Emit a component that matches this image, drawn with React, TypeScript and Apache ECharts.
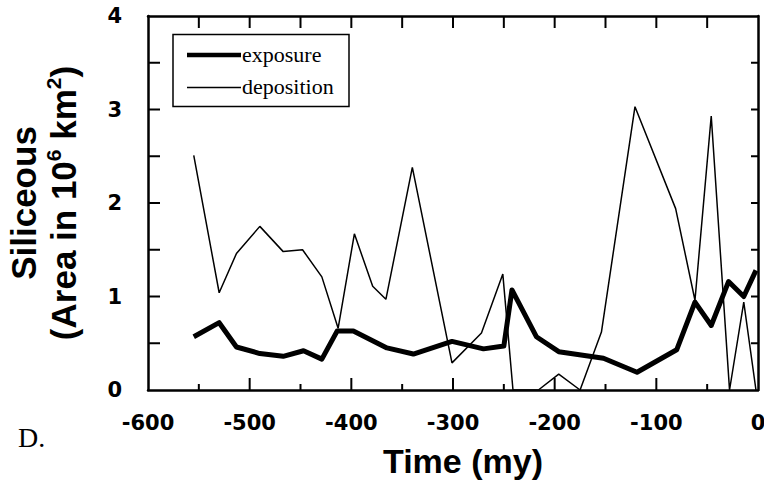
import React, { useEffect, useRef } from "react";
import * as echarts from "echarts";

const expTime = [-555, -530, -513, -490, -467, -447, -429, -414, -398, -365, -339, -301, -270, -250, -242, -218, -196, -152, -119, -80, -62, -46, -29, -14, -2];
const expValue = [0.57, 0.72, 0.46, 0.39, 0.36, 0.42, 0.33, 0.63, 0.63, 0.45, 0.385, 0.52, 0.44, 0.47, 1.07, 0.57, 0.41, 0.34, 0.19, 0.43, 0.94, 0.69, 1.16, 1.0, 1.28];

const depTime = [-555, -530, -513, -490, -467, -448, -429, -413, -397, -379, -366, -340, -301, -272, -251, -241, -216, -196, -175, -154, -121, -81, -62, -46, -28, -14, -2];
const depValue = [2.51, 1.04, 1.46, 1.75, 1.48, 1.5, 1.21, 0.66, 1.67, 1.11, 0.97, 2.38, 0.29, 0.61, 1.24, 0, 0, 0.17, 0, 0.62, 3.03, 1.94, 0.96, 2.93, 0, 0.94, 0];

// axis tick positions (major every 100 / 1, minor halfway)
const xTicks = [-550, -500, -450, -400, -350, -300, -250, -200, -150, -100, -50];
const yTicks = [0.5, 1, 1.5, 2, 2.5, 3, 3.5];

const seriesNames = ["exposure", "deposition"];
const xTitle = "Time (my)";
const panelLabel = "D.";

const SANS = "'Liberation Sans', Arial, Helvetica, sans-serif";
const TICKFONT = "'DejaVu Sans', 'Liberation Sans', sans-serif";
const SERIF = "'Liberation Serif', 'Times New Roman', serif";

const X_MIN = -600;
const X_MAX = 0;
const Y_MIN = 0;
const Y_MAX = 4;

export default function App() {
  const ref = useRef<HTMLDivElement>(null);
  useEffect(() => {
    if (!ref.current) return;
    const chart = echarts.init(ref.current, undefined, { renderer: "svg" });
    const axisLine = { show: true, onZero: false, lineStyle: { color: "#000", width: 2.5 } };
    const tickStyle = { stroke: "#000", lineWidth: 2 };
    const xBase = { type: "value", min: X_MIN, max: X_MAX, interval: 100, splitLine: { show: false }, axisTick: { show: false } };
    const yBase = { type: "value", min: Y_MIN, max: Y_MAX, interval: 1, splitLine: { show: false }, axisTick: { show: false } };
    const legendGraphics: any[] = [
      {
        type: "rect",
        shape: { x: 173, y: 34.5, width: 176, height: 72 },
        style: { fill: "#fff", stroke: "#000", lineWidth: 1.5 },
        z: 10,
      },
      {
        type: "line",
        shape: { x1: 187, y1: 55, x2: 241, y2: 55 },
        style: { stroke: "#000", lineWidth: 4.5 },
        z: 11,
      },
      {
        type: "line",
        shape: { x1: 187, y1: 87.5, x2: 241, y2: 87.5 },
        style: { stroke: "#000", lineWidth: 1.5 },
        z: 11,
      },
      {
        type: "text",
        x: 242,
        y: 54,
        style: { text: seriesNames[0], fill: "#000", font: `22px ${SERIF}`, verticalAlign: "middle" },
        z: 11,
      },
      {
        type: "text",
        x: 242,
        y: 86,
        style: { text: seriesNames[1], fill: "#000", font: `22px ${SERIF}`, verticalAlign: "middle" },
        z: 11,
      },
      {
        type: "text",
        x: 18,
        y: 437,
        style: { text: panelLabel, fill: "#000", font: `28px ${SERIF}`, verticalAlign: "middle" },
      },
    ];
    chart.setOption({
      animation: false,
      backgroundColor: "#fff",
      grid: {
        left: 148,
        right: 6,
        top: 16,
        bottom: 92,
        containLabel: false,
        outerBoundsMode: "none",
      },
      xAxis: [
        {
          ...xBase,
          position: "bottom",
          axisLine,
          axisLabel: { color: "#000", fontFamily: TICKFONT, fontWeight: "bold", fontSize: 21, margin: 22 },
          name: xTitle,
          nameLocation: "middle",
          nameGap: 54,
          nameTextStyle: {
            color: "#000",
            fontFamily: SANS,
            fontWeight: "bold",
            fontSize: 34,
            padding: [0, 0, 0, 20],
          },
        },
        {
          ...xBase,
          position: "top",
          axisLine,
          axisLabel: { show: false },
        },
      ],
      yAxis: [
        {
          ...yBase,
          position: "left",
          axisLine,
          axisLabel: { color: "#000", fontFamily: TICKFONT, fontWeight: "bold", fontSize: 21, margin: 26 },
          name: "{m|Siliceous}\n{m|(Area in 10}{s|6}{m| km}{s|2}{m|)}",
          nameLocation: "middle",
          nameRotate: 90,
          nameGap: 65,
          nameTextStyle: {
            color: "#000",
            fontFamily: SANS,
            fontWeight: "bold",
            fontSize: 35,
            rich: {
              m: { fontFamily: SANS, fontWeight: "bold", fontSize: 35, lineHeight: 40, color: "#000" },
              s: { fontFamily: SANS, fontWeight: "bold", fontSize: 21, lineHeight: 40, verticalAlign: "top", color: "#000" },
            },
          },
        },
        {
          ...yBase,
          position: "right",
          axisLine,
          axisLabel: { show: false },
        },
      ],
      series: [
        {
          name: seriesNames[0],
          type: "line",
          xAxisIndex: 0,
          yAxisIndex: 0,
          data: expTime.map((t, i) => [t, expValue[i]]),
          showSymbol: false,
          symbol: "none",
          lineStyle: { color: "#000", width: 5, join: "round" },
          z: 3,
        },
        {
          name: seriesNames[1],
          type: "line",
          xAxisIndex: 0,
          yAxisIndex: 0,
          data: depTime.map((t, i) => [t, depValue[i]]),
          showSymbol: false,
          symbol: "none",
          lineStyle: { color: "#000", width: 1.5 },
          z: 2,
        },
      ],
      graphic: legendGraphics,
    });

    // tick marks, positioned through the grid's own scales
    const px = (x: number, y: number) => chart.convertToPixel({ gridIndex: 0 }, [x, y]) as number[];
    const tickGraphics: any[] = [];
    xTicks.forEach((v) => {
      const b = px(v, Y_MIN);
      const t = px(v, Y_MAX);
      const major = Math.abs(v % 100) < 1e-6;
      tickGraphics.push({ type: "line", z: 20, shape: { x1: b[0], y1: b[1], x2: b[0], y2: b[1] - (major ? 12 : 6) }, style: tickStyle });
      tickGraphics.push({ type: "line", z: 20, shape: { x1: t[0], y1: t[1], x2: t[0], y2: t[1] + 12 }, style: tickStyle });
    });
    yTicks.forEach((v) => {
      const l = px(X_MIN, v);
      const r = px(X_MAX, v);
      tickGraphics.push({ type: "line", z: 20, shape: { x1: l[0], y1: l[1], x2: l[0] + 12, y2: l[1] }, style: tickStyle });
      tickGraphics.push({ type: "line", z: 20, shape: { x1: r[0], y1: r[1], x2: r[0] - 7, y2: r[1] }, style: tickStyle });
    });
    chart.setOption({ graphic: [...legendGraphics, ...tickGraphics] }, { replaceMerge: ["graphic"] });

    return () => chart.dispose();
  }, []);
  return <div ref={ref} style={{ width: 764, height: 482, position: "absolute", left: 0, top: 0 }} />;
}
